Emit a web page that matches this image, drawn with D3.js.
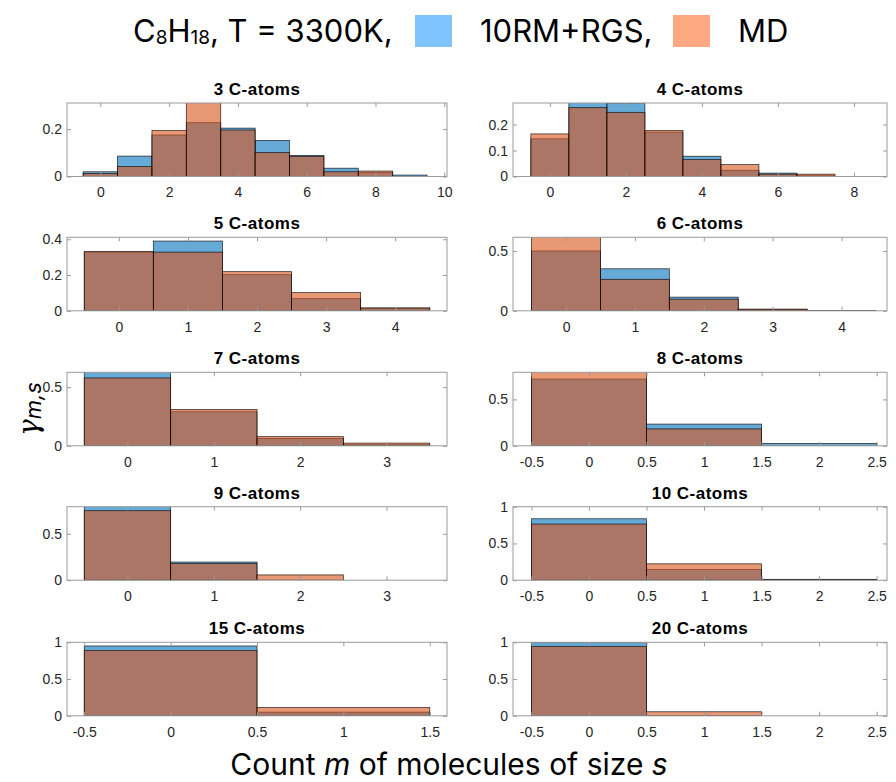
<!DOCTYPE html>
<html>
<head>
<meta charset="utf-8">
<script src="https://cdn.jsdelivr.net/npm/d3@7"></script>
<style>
  html, body { margin: 0; padding: 0; background: #fff; }
  svg { display: block; }
</style>
</head>
<body>
<div id="chart"></div>
<script>
// ---------------- data ----------------
const panelTitles = ["3 C-atoms", "4 C-atoms", "5 C-atoms", "6 C-atoms", "7 C-atoms",
                     "8 C-atoms", "9 C-atoms", "10 C-atoms", "15 C-atoms", "20 C-atoms"];
const seriesNames = ["10RM+RGS", "MD"];

// gamma_{m,s} for m = 0,1,2,... (bins centred on integers)
const rmrgsValues = [
  [0.020, 0.086, 0.175, 0.227, 0.204, 0.152, 0.089, 0.035, 0.017, 0.006],
  [0.145, 0.287, 0.283, 0.171, 0.078, 0.024, 0.013, 0.003, 0],
  [0.328, 0.390, 0.202, 0.068, 0.015],
  [0.500, 0.351, 0.114, 0.012, 0.002],
  [0.638, 0.290, 0.063, 0.009],
  [0.719, 0.234, 0.026],
  [0.804, 0.196, 0, 0],
  [0.836, 0.145, 0.010],
  [0.950, 0.050],
  [0.995, 0.005, 0]
];
const mdValues = [
  [0.013, 0.042, 0.194, 0.326, 0.196, 0.101, 0.085, 0.020, 0.023, 0],
  [0.164, 0.265, 0.247, 0.177, 0.065, 0.046, 0.009, 0.009, 0],
  [0.332, 0.328, 0.219, 0.102, 0.016],
  [0.624, 0.263, 0.097, 0.014, 0.002],
  [0.578, 0.310, 0.078, 0.023],
  [0.818, 0.182, 0],
  [0.750, 0.179, 0.057, 0],
  [0.764, 0.223, 0.012],
  [0.890, 0.113],
  [0.945, 0.055, 0]
];

// axis limits and tick labels
const xLimits = [
  [-0.97, 10.08], [-0.97, 8.87], [-0.75, 4.75], [-0.77, 4.66], [-0.70, 3.70],
  [-0.66, 2.59], [-0.70, 3.70], [-0.66, 2.59], [-0.60, 1.60], [-0.66, 2.59]
];
const yLimits = [0.31, 0.283, 0.411, 0.614, 0.626, 0.792, 0.793, 1, 1, 1];
const xTickValues = [
  [0, 2, 4, 6, 8, 10], [0, 2, 4, 6, 8], [0, 1, 2, 3, 4], [0, 1, 2, 3, 4], [0, 1, 2, 3],
  [-0.5, 0, 0.5, 1, 1.5, 2, 2.5], [0, 1, 2, 3], [-0.5, 0, 0.5, 1, 1.5, 2, 2.5],
  [-0.5, 0, 0.5, 1, 1.5], [-0.5, 0, 0.5, 1, 1.5, 2, 2.5]
];
const yTickValues = [
  [0, 0.2], [0, 0.1, 0.2], [0, 0.2, 0.4], [0, 0.5], [0, 0.5],
  [0, 0.5], [0, 0.5], [0, 0.5, 1], [0, 0.5, 1], [0, 0.5, 1]
];

// ---------------- layout / style ----------------
const W = 896, H = 782;
const colX = [[67, 447], [513, 887]];
const rowTop = [103, 237.3, 372.3, 506.7, 642.3];
const panelH = 73.5;
const barColors = ["rgb(0,114,189)", "rgb(217,83,25)"];
const legendColors = ["#80c4fe", "#fea882"];

const svg = d3.select("#chart").append("svg")
  .attr("width", W).attr("height", H)
  .attr("viewBox", `0 0 ${W} ${H}`);

const fmt = d => String(d);

panelTitles.forEach((title, i) => {
  const col = i % 2, row = Math.floor(i / 2);
  const [x0, x1] = colX[col];
  const y0 = rowTop[row], y1 = y0 + panelH;

  const x = d3.scaleLinear().domain(xLimits[i]).range([x0, x1]);
  const y = d3.scaleLinear().domain([0, yLimits[i]]).range([y1, y0]);

  const g = svg.append("g").attr("class", "panel");

  const clipId = "clip" + i;
  svg.append("defs").append("clipPath").attr("id", clipId)
    .append("rect").attr("x", x0).attr("y", y0).attr("width", x1 - x0).attr("height", y1 - y0);

  const bars = g.append("g").attr("clip-path", `url(#${clipId})`);
  [rmrgsValues[i], mdValues[i]].forEach((vals, s) => {
    bars.append("g").selectAll("rect")
      .data(vals.map((v, m) => ({ m, v })).filter(d => d.v > 0))
      .join("rect")
      .attr("x", d => x(d.m - 0.5))
      .attr("width", d => x(d.m + 0.5) - x(d.m - 0.5))
      .attr("y", d => y(d.v))
      .attr("height", d => y(0) - y(d.v))
      .attr("fill", barColors[s])
      .attr("fill-opacity", 0.6)
      .attr("stroke", "#000")
      .attr("stroke-opacity", 0.75)
      .attr("stroke-width", 0.8);
  });

  // axes
  const axColor = "#9a9a9a";
  const styleAxis = sel => {
    sel.select(".domain").remove();
    sel.selectAll(".tick line").attr("stroke", axColor);
    sel.selectAll(".tick text").attr("fill", "#262626")
      .style("font-family", "'Liberation Sans', Arial, sans-serif").style("font-size", "14px");
  };
  g.append("g").attr("transform", `translate(0,${y1})`)
    .call(d3.axisBottom(x).tickValues(xTickValues[i]).tickFormat(fmt)
      .tickSizeInner(-4).tickSizeOuter(0).tickPadding(11))
    .call(styleAxis);
  g.append("g").attr("transform", `translate(0,${y0})`)
    .call(d3.axisTop(x).tickValues(xTickValues[i]).tickFormat("")
      .tickSizeInner(-4).tickSizeOuter(0))
    .call(styleAxis);
  g.append("g").attr("transform", `translate(${x0},0)`)
    .call(d3.axisLeft(y).tickValues(yTickValues[i]).tickFormat(fmt)
      .tickSizeInner(-4).tickSizeOuter(0).tickPadding(5))
    .call(styleAxis);
  g.append("g").attr("transform", `translate(${x1},0)`)
    .call(d3.axisRight(y).tickValues(yTickValues[i]).tickFormat("")
      .tickSizeInner(-4).tickSizeOuter(0))
    .call(styleAxis);

  g.append("rect")
    .attr("x", x0).attr("y", y0).attr("width", x1 - x0).attr("height", y1 - y0)
    .attr("fill", "none").attr("stroke", axColor).attr("stroke-width", 1);

  g.append("text")
    .attr("x", (x0 + x1) / 2).attr("y", y0 - 8)
    .attr("text-anchor", "middle")
    .style("font-family", "'Liberation Sans', Arial, sans-serif")
    .style("font-weight", "bold").style("font-size", "17px")
    .style("letter-spacing", "0.5px")
    .attr("fill", "#000")
    .text(title);
});

// ---------------- legend / header ----------------
const legendFont = "Inter, 'Open Sans', sans-serif";
const hdr = svg.append("text")
  .attr("x", 133).attr("y", 42)
  .style("font-family", legendFont).style("font-size", "31px").attr("fill", "#000");
hdr.append("tspan").text("C");
hdr.append("tspan").text("8").style("font-size", "19px").attr("dy", 2);
hdr.append("tspan").text("H").attr("dy", -2);
hdr.append("tspan").text("18").style("font-size", "19px").attr("dy", 2);
hdr.append("tspan").text(", T = 3300K,").attr("dy", -2);

const legendX = [415, 673];
const legendTextX = [480, 738];
seriesNames.forEach((name, s) => {
  svg.append("rect")
    .attr("x", legendX[s]).attr("y", 15).attr("width", 37).attr("height", 32)
    .attr("fill", legendColors[s]);
  svg.append("text")
    .attr("x", legendTextX[s]).attr("y", 42)
    .style("font-family", legendFont).style("font-size", "31px").attr("fill", "#000")
    .text(s === 0 ? name + "," : name);
});

// ---------------- axis labels ----------------
const xl = svg.append("text")
  .attr("x", 449).attr("y", 775).attr("text-anchor", "middle")
  .style("font-family", legendFont).style("font-size", "30px").attr("fill", "#000");
xl.append("tspan").text("Count ");
xl.append("tspan").text("m").style("font-style", "italic");
xl.append("tspan").text(" of molecules of size ");
xl.append("tspan").text("s").style("font-style", "italic");

const yl = svg.append("text")
  .attr("transform", "translate(38,409) rotate(-90)")
  .attr("text-anchor", "middle")
  .style("font-family", "'DejaVu Serif', serif").style("font-size", "28px").attr("fill", "#000");
yl.append("tspan").text("γ").style("font-style", "italic");
yl.append("tspan").text("m,s").style("font-style", "italic").style("font-size", "22px")
  .style("font-family", legendFont).attr("dy", 3);
</script>
</body>
</html>
